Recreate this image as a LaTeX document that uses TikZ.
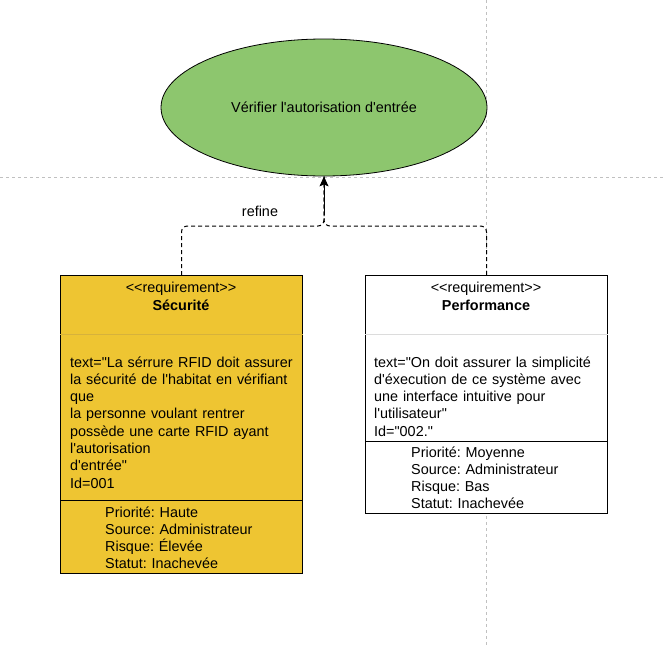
\documentclass[tikz,border=0pt]{standalone}
\usepackage{fontspec}
\newfontfamily\dfont{Liberation Sans}
\usetikzlibrary{shapes.geometric,arrows.meta}
\frenchspacing
\definecolor{ellgreen}{RGB}{141,198,110}
\definecolor{reqgold}{RGB}{238,197,50}
\definecolor{pagegray}{RGB}{192,192,192}
\definecolor{goldsep}{RGB}{214,178,60}
\definecolor{graysep}{RGB}{220,220,220}
\tikzset{
  x=1pt, y=-1pt,
  every node/.style={font=\dfont\frenchspacing\fontsize{14.4}{17.3}\selectfont, inner sep=0pt},
  pageline/.style={pagegray, dash pattern=on 3pt off 3pt, line width=0.8pt},
  reqbox/.style={draw=black, line width=1pt, rectangle, anchor=north west},
  dline/.style={black, line width=1pt, dash pattern=on 4pt off 3pt, rounded corners=6pt},
  txt/.style={anchor=base west, align=left, text width=240pt},
  ctr/.style={anchor=base, align=center},
}
\begin{document}
\begin{tikzpicture}
\useasboundingbox (0,0) rectangle (663,645);
% page boundaries
\draw[pageline] (0,177) -- (663,177);
\draw[pageline] (486,0) -- (486,645);

% use case
\node[ellipse, draw=black, line width=0.8pt, fill=ellgreen, minimum width=326pt, minimum height=137pt] (ell) at (324,107.5) {V\'erifier l'autorisation d'entr\'ee};

% Securite box
\node[reqbox, fill=reqgold, minimum width=242pt, minimum height=298pt] (sec) at (60,275) {};
\draw[goldsep, line width=0.8pt] (sec.west |- 0,334) -- (sec.east |- 0,334);
\draw[black, line width=1pt] (sec.west |- 0,500) -- (sec.east |- 0,500);
\node[ctr] (sech1) at (181,292.5) {<<requirement>>};
\node[ctr, font=\dfont\bfseries\fontsize{14.4}{17.3}\selectfont] (sech2) at (181,310) {S\'ecurit\'e};
\node[txt] (secb) at (70,367) {text="La s\'errure RFID doit assurer\\la s\'ecurit\'e de l'habitat en v\'erifiant\\que\\la personne voulant rentrer\\poss\`ede une carte RFID ayant\\l'autorisation\\d'entr\'ee"\\Id=001};
\node[txt] (seca) at (105,517) {Priorit\'e: Haute\\Source: Administrateur\\Risque: \'Elev\'ee\\Statut: Inachev\'ee};

% Performance box
\node[reqbox, fill=white, minimum width=242pt, minimum height=238pt] (perf) at (365,275) {};
\draw[graysep, line width=0.8pt] (perf.west |- 0,334) -- (perf.east |- 0,334);
\draw[black, line width=1pt] (perf.west |- 0,441) -- (perf.east |- 0,441);
\node[ctr] (perfh1) at (486,292.5) {<<requirement>>};
\node[ctr, font=\dfont\bfseries\fontsize{14.4}{17.3}\selectfont] (perfh2) at (486,310) {Performance};
\node[txt] (perfb) at (374,367) {text="On doit assurer la simplicit\'e\\d'\'execution de ce syst\`eme avec\\une interface intuitive pour\\l'utilisateur"\\Id="002."};
\node[txt] (perfa) at (411,457) {Priorit\'e: Moyenne\\Source: Administrateur\\Risque: Bas\\Statut: Inachev\'ee};

% refine connectors
\coordinate (j) at (324,226);
\draw[dline] (sec.north) |- (j) -- (ell.south);
\draw[dline] (perf.north) |- (j) -- (ell.south);
\draw[black, line width=1pt, -{Stealth[length=10pt,width=9pt,inset=2pt]}] (324,215) -- (ell.south);
\node[anchor=base] (lbl) at (260,216) {refine};
\end{tikzpicture}
\end{document}
